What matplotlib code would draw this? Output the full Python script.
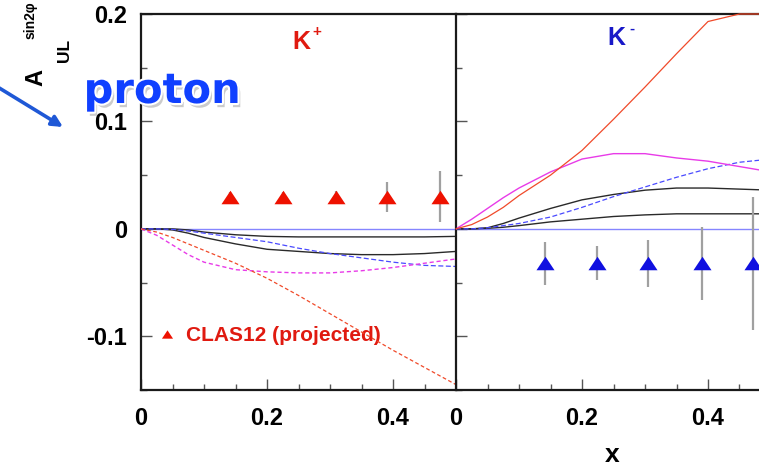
import matplotlib

matplotlib.use("Agg")
import matplotlib.pyplot as plt
import matplotlib.patheffects as pe
from matplotlib.lines import Line2D
from matplotlib.ticker import MultipleLocator

plt.rcParams["font.family"] = ["Liberation Sans", "DejaVu Sans"]
plt.rcParams["font.weight"] = "bold"

# model curves, sampled on a common x grid
X_GRID = [0, 0.025, 0.05, 0.075, 0.1, 0.15, 0.2, 0.25, 0.3, 0.35, 0.4, 0.45, 0.5]

KP_RED = [0, -0.003, -0.008, -0.014, -0.020, -0.032, -0.046, -0.062, -0.079, -0.096, -0.113, -0.129, -0.145]
KP_MAGENTA = [0, -0.006, -0.015, -0.024, -0.031, -0.038, -0.040, -0.041, -0.041, -0.039, -0.036, -0.032, -0.028]
KP_BLUE = [0, 0, -0.0005, -0.002, -0.004, -0.008, -0.012, -0.018, -0.023, -0.027, -0.031, -0.034, -0.035]
KP_BLACK1 = [0, 0, 0, -0.001, -0.003, -0.0055, -0.007, -0.0075, -0.0075, -0.0075, -0.0075, -0.0075, -0.007]
KP_BLACK2 = [0, 0, -0.001, -0.004, -0.008, -0.014, -0.019, -0.021, -0.023, -0.024, -0.024, -0.023, -0.021]

KM_RED = [0, 0.004, 0.011, 0.020, 0.031, 0.050, 0.073, 0.102, 0.132, 0.163, 0.193, 0.223, 0.253]
KM_MAGENTA = [0, 0.009, 0.019, 0.029, 0.038, 0.053, 0.065, 0.070, 0.070, 0.066, 0.063, 0.058, 0.053]
KM_BLUE = [0, 0, 0.001, 0.003, 0.005, 0.011, 0.020, 0.030, 0.039, 0.048, 0.056, 0.062, 0.065]
KM_BLACK1 = [0, 0, 0.001, 0.005, 0.010, 0.019, 0.027, 0.032, 0.036, 0.038, 0.038, 0.037, 0.036]
KM_BLACK2 = [0, 0, 0.0005, 0.0015, 0.003, 0.0065, 0.009, 0.0115, 0.013, 0.014, 0.014, 0.014, 0.014]

# projected CLAS12 points
KP_X = [0.141, 0.225, 0.310, 0.390, 0.474]
KP_Y = [0.030, 0.030, 0.030, 0.030, 0.030]
KP_ERR = [0.004, 0.004, 0.005, 0.014, 0.024]

KM_X = [0.141, 0.224, 0.305, 0.390, 0.471]
KM_Y = [-0.032, -0.032, -0.032, -0.032, -0.032]
KM_ERR = [0.020, 0.016, 0.022, 0.034, 0.062]

XTICKS = [0, 0.2, 0.4]
XTICK_LABELS = ["0", "0.2", "0.4"]
YTICKS = [-0.1, 0, 0.1, 0.2]
YTICK_LABELS = ["-0.1", "0", "0.1", "0.2"]
YMAX = 0.2

RED = "#f04a2a"
MAGENTA = "#e83be8"
BLUE = "#4a4aff"
ZERO = "#8585ff"
BLACK = "#2a2a2a"
TRI = [(-1, -0.75), (1, -0.75), (0, 0.75)]

fig = plt.figure(figsize=(7.59, 4.68), dpi=100)
W, H = 759, 468
ax_kp = fig.add_axes([141 / W, 78 / H, 315 / W, 376 / H])
ax_km = fig.add_axes([456 / W, 78 / H, 315 / W, 376 / H])


def style_axes(ax, show_ylabels):
    ax.set_xlim(0, 0.5)
    ax.set_ylim(-0.15, YMAX)
    for side in ("left", "bottom", "top", "right"):
        ax.spines[side].set_linewidth(1.6)
        ax.spines[side].set_color("#1a1a1a")
    ax.spines["right"].set_visible(False)
    ax.set_xticks(XTICKS)
    ax.set_xticklabels(XTICK_LABELS)
    ax.xaxis.set_minor_locator(MultipleLocator(0.05))
    ax.set_yticks(YTICKS)
    ax.set_yticklabels(YTICK_LABELS if show_ylabels else [])
    ax.yaxis.set_minor_locator(MultipleLocator(0.05))
    ax.tick_params(which="both", direction="in", top=False, right=False,
                   color="#555555", width=1)
    ax.tick_params(which="major", length=8, labelsize=17)
    ax.tick_params(which="minor", length=4.5)
    ax.tick_params(axis="x", which="major", pad=12)
    ax.tick_params(axis="y", which="major", pad=10)


def draw_curves(ax, red, magenta, blue, black1, black2, dashed):
    ls_r = (0, (3, 2)) if dashed else "-"
    ax.axhline(0, color=ZERO, lw=1.0, zorder=2)
    ax.plot(X_GRID, black1, color=BLACK, lw=1.0, zorder=3)
    ax.plot(X_GRID, black2, color=BLACK, lw=1.0, zorder=3)
    ax.plot(X_GRID, blue, color=BLUE, lw=0.9, ls=(0, (4, 2)), zorder=3)
    ax.plot(X_GRID, magenta, color=MAGENTA, lw=1.0, ls=ls_r, zorder=3)
    # curves leaving the frame run along its top edge
    ax.plot(X_GRID, [min(v, YMAX) for v in red], color=RED, lw=0.9, ls=ls_r,
            zorder=6, clip_on=False)


def panel_label(ax, name, charge, color, xy):
    ax.text(xy[0], xy[1], name, transform=ax.transAxes, color=color,
            fontsize=18, ha="center", va="center")
    ax.annotate(charge, xy=xy, xycoords="axes fraction", xytext=(11, 7),
                textcoords="offset points", color=color, fontsize=11,
                ha="center", va="center")


style_axes(ax_kp, True)
style_axes(ax_km, False)

draw_curves(ax_kp, KP_RED, KP_MAGENTA, KP_BLUE, KP_BLACK1, KP_BLACK2, True)
draw_curves(ax_km, KM_RED, KM_MAGENTA, KM_BLUE, KM_BLACK1, KM_BLACK2, False)

ax_kp.errorbar(KP_X, KP_Y, yerr=KP_ERR, fmt="none", ecolor="#a0a0a0", elinewidth=1.6, zorder=4)
ax_kp.plot(KP_X, KP_Y, ls="none", marker=TRI, ms=13, color="#ee1100", mec="none", zorder=5)
ax_km.errorbar(KM_X, KM_Y, yerr=KM_ERR, fmt="none", ecolor="#a0a0a0", elinewidth=1.6, zorder=4)
ax_km.plot(KM_X, KM_Y, ls="none", marker=TRI, ms=13, color="#1010e0", mec="none", zorder=5)

panel_label(ax_kp, "K", "+", "#e01a10", (0.51, 0.925))
panel_label(ax_km, "K", "-", "#1818c8", (0.51, 0.935))

key = Line2D([], [], ls="none", marker=TRI, ms=8, color="#ee1100", mec="none")
ax_kp.legend([key], ["CLAS12 (projected)"], loc="center left",
             bbox_to_anchor=(0.05, 0.145), frameon=False, handlelength=1.0,
             handletextpad=0.4, borderaxespad=0, borderpad=0,
             prop={"size": 15, "weight": "bold"}, labelcolor="#e01a10")

# axis titles
fig.text(612 / W, 1 - 455 / H, "x", fontsize=19, ha="center", va="center")
fig.text(36 / W, 1 - 77 / H, "A", fontsize=17, rotation=90, ha="center", va="center")
fig.text(64 / W, 1 - 50 / H, "UL", fontsize=12.5, rotation=90, ha="center", va="center")
fig.text(31 / W, 1 - 20 / H, "sin2\u03c6", fontsize=10, rotation=90, ha="center", va="center")

# target label with arrow
fig.text(162 / W, 1 - 91 / H, "proton", fontsize=30, color="#1040ff", family="DejaVu Sans",
         ha="center", va="center",
         path_effects=[pe.SimplePatchShadow(offset=(2, -3), shadow_rgbFace="0.55", alpha=0.45),
                       pe.withStroke(linewidth=3, foreground="white")])
ax_kp.annotate("", xy=(63, H - 127), xytext=(-4, H - 86), xycoords="figure pixels",
               textcoords="figure pixels", annotation_clip=False,
               arrowprops=dict(arrowstyle="-|>", color="#1f58d6", lw=2.6, mutation_scale=16,
                               shrinkA=0, shrinkB=0))

fig.savefig("out.png", dpi=100)
